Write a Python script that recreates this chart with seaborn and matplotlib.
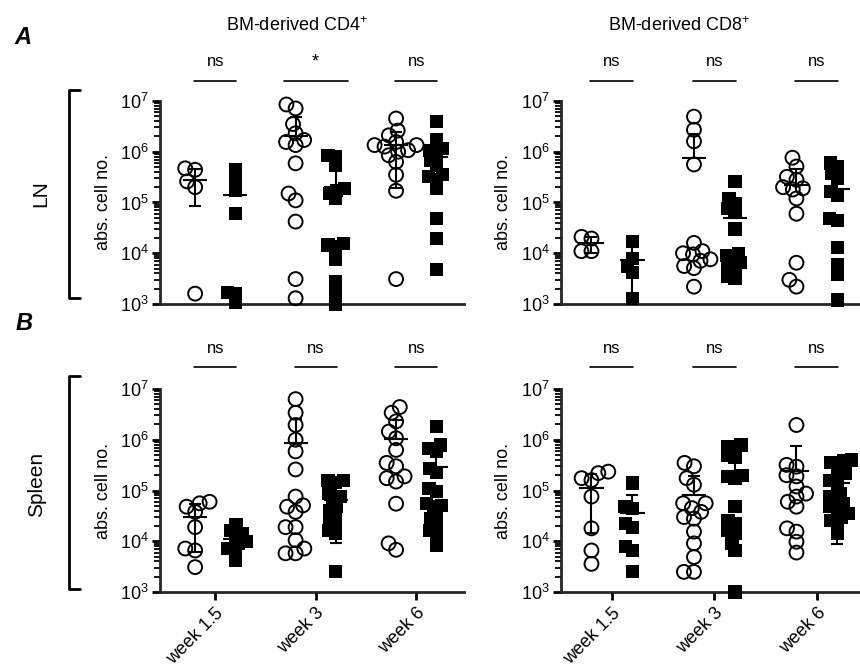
import numpy as np
import pandas as pd
import seaborn as sns
import matplotlib.pyplot as plt
from matplotlib.lines import Line2D
from matplotlib.ticker import LogLocator, NullFormatter

# x 카테고리 / 그룹
weeks = ['week 1.5', 'week 3', 'week 6']
groups = ['open', 'filled']

# LN, BM-derived CD4+  (주차별 값, 그림에서 읽은 값)
ln_cd4_open = [
    [4.7e5, 4.4e5, 2.6e5, 2.0e5, 1.6e3],
    [8.5e6, 7.1e6, 3.5e6, 2.3e6, 1.7e6, 1.55e6, 1.35e6, 5.9e5, 1.5e5, 1.1e5, 4.2e4, 3.1e3, 1.3e3],
    [4.5e6, 2.6e6, 2.1e6, 1.55e6, 1.35e6, 1.35e6, 1.26e6, 1.07e6, 1.0e6, 8.5e5, 6.3e5, 3.5e5, 1.7e5, 3.1e3],
]
ln_cd4_filled = [
    [4.5e5, 2.75e5, 1.75e5, 6.0e4, 1.7e3, 1.6e3, 1.1e3],
    [8.5e5, 7.9e5, 5.4e5, 1.9e5, 1.75e5, 1.5e5, 1.2e5, 1.55e4, 1.45e4, 1.35e4, 7.4e3, 2.75e3, 1.6e3, 1.0e3],
    [3.9e6, 1.7e6, 1.15e6, 1.07e6, 9.1e5, 6.8e5, 5.4e5, 3.5e5, 3.2e5, 2.8e5, 1.9e5, 4.9e4, 1.95e4, 4.7e3],
]
ln_cd4_sig = ['ns', '*', 'ns']

# LN, BM-derived CD8+
ln_cd8_open = [
    [2.1e4, 1.95e4, 1.1e4, 1.1e4],
    [4.9e6, 2.7e6, 1.6e6, 5.6e5, 1.6e4, 1.1e4, 1.0e4, 9.5e3, 7.6e3, 7.1e3, 5.6e3, 5.1e3, 2.2e3],
    [7.6e5, 5.1e5, 3.2e5, 2.8e5, 2.0e5, 1.9e5, 1.8e5, 1.2e5, 6.0e4, 6.5e3, 3.0e3, 2.2e3],
]
ln_cd8_filled = [
    [1.7e4, 8.0e3, 5.5e3, 4.2e3, 1.3e3],
    [2.6e5, 1.2e5, 9.5e4, 7.6e4, 6.5e4, 3.0e4, 1.0e4, 8.9e3, 7.6e3, 6.5e3, 6.0e3, 5.1e3, 3.5e3, 3.2e3],
    [6.0e5, 5.2e5, 3.8e5, 3.0e5, 1.65e5, 1.4e5, 4.8e4, 4.4e4, 1.3e4, 6.0e3, 3.8e3, 1.2e3],
]
ln_cd8_sig = ['ns', 'ns', 'ns']

# Spleen, BM-derived CD4+
sp_cd4_open = [
    [6.0e4, 5.6e4, 4.8e4, 3.8e4, 1.9e4, 7.2e3, 6.6e3, 3.1e3],
    [6.3e6, 3.4e6, 1.95e6, 1.0e6, 5.9e5, 2.6e5, 7.6e4, 5.1e4, 4.8e4, 3.8e4, 1.9e4, 1.9e4, 1.05e4, 7.2e3, 5.8e3, 5.8e3],
    [4.4e6, 3.4e6, 2.3e6, 1.45e6, 1.07e6, 6.3e5, 3.5e5, 3.0e5, 1.9e5, 1.75e5, 1.5e5, 5.5e4, 9.1e3, 6.8e3],
]
sp_cd4_filled = [
    [2.1e4, 1.65e4, 1.4e4, 1.25e4, 9.8e3, 9.1e3, 7.2e3, 6.6e3, 4.3e3],
    [1.6e5, 1.55e5, 1.45e5, 8.7e4, 7.6e4, 6.5e4, 4.8e4, 4.1e4, 3.3e4, 2.6e4, 2.1e4, 1.65e4, 1.4e4, 2.5e3],
    [1.8e6, 7.9e5, 6.8e5, 5.9e5, 2.75e5, 2.3e5, 1.1e5, 9.5e4, 5.6e4, 5.1e4, 4.8e4, 3.5e4, 2.8e4, 2.2e4, 1.65e4, 1.4e4, 8.3e3],
]
sp_cd4_sig = ['ns', 'ns', 'ns']

# Spleen, BM-derived CD8+
sp_cd8_open = [
    [2.35e5, 2.2e5, 1.75e5, 1.6e5, 7.6e4, 1.8e4, 6.6e3, 3.6e3],
    [3.5e5, 3.0e5, 1.75e5, 1.3e5, 5.6e4, 5.6e4, 4.5e4, 3.8e4, 3.0e4, 2.8e4, 1.55e4, 9.1e3, 4.9e3, 2.5e3, 2.5e3],
    [1.95e6, 3.2e5, 2.95e5, 2.0e5, 1.9e5, 1.2e5, 8.7e4, 7.6e4, 6.0e4, 4.8e4, 1.8e4, 1.55e4, 9.8e3, 6.0e3],
]
sp_cd8_filled = [
    [1.4e5, 4.8e4, 4.5e4, 2.2e4, 1.9e4, 7.8e3, 6.6e3, 2.5e3],
    [7.9e5, 7.4e5, 6.3e5, 5.0e5, 4.4e5, 2.0e5, 1.9e5, 1.75e5, 4.8e4, 2.6e4, 2.2e4, 1.65e4, 1.4e4, 9.1e3, 6.6e3, 1.0e3],
    [4.0e5, 3.8e5, 3.5e5, 3.0e5, 2.2e5, 2.0e5, 1.6e5, 1.4e5, 8.7e4, 7.6e4, 6.5e4, 5.6e4, 4.8e4, 4.5e4,
     3.5e4, 3.0e4, 2.6e4, 2.2e4, 1.4e4],
]
sp_cd8_sig = ['ns', 'ns', 'ns']


sns.set_style('ticks')
plt.rcParams['font.family'] = ['Liberation Sans', 'DejaVu Sans']
plt.rcParams['mathtext.fontset'] = 'custom'
plt.rcParams['mathtext.rm'] = 'Liberation Sans'
plt.rcParams['mathtext.it'] = 'Liberation Sans:italic'
plt.rcParams['mathtext.bf'] = 'Liberation Sans:bold'
plt.rcParams['text.color'] = 'black'
plt.rcParams['axes.labelcolor'] = 'black'
plt.rcParams['xtick.color'] = 'black'
plt.rcParams['ytick.color'] = 'black'

SWARM_SIZE = 5.5     # swarm 배치 계산용 (작게 -> GraphPad처럼 촘촘하게)
CIRCLE_SIZE = 10     # 실제 표시 크기
SQUARE_SIZE = 9.5

swarm_cols = []      # (collection, 표시 크기)


def to_long(open_vals, filled_vals):
    rows = []
    for wk, vals in zip(weeks, open_vals):
        for v in vals:
            rows.append((wk, 'open', v))
    for wk, vals in zip(weeks, filled_vals):
        for v in vals:
            rows.append((wk, 'filled', v))
    return pd.DataFrame(rows, columns=['week', 'group', 'cells'])


def draw_panel(ax, open_vals, filled_vals, sig, xlim, bottom_row):
    df = to_long(open_vals, filled_vals)
    pal = {'open': 'white', 'filled': 'black'}

    # 원 (open circle)
    n0 = len(ax.collections)
    sns.swarmplot(data=df[df.group == 'open'], x='week', y='cells', hue='group',
                  order=weeks, hue_order=groups, dodge=True, palette=pal,
                  marker='o', size=SWARM_SIZE, edgecolor='black', linewidth=1.4,
                  legend=False, log_scale=True, ax=ax, warn_thresh=1)
    for c in ax.collections[n0:]:
        if len(c.get_offsets()):
            c.set_facecolor('none')
            c.set_clip_on(False)
            swarm_cols.append((c, CIRCLE_SIZE))
    # 네모 (filled square)
    n0 = len(ax.collections)
    sns.swarmplot(data=df[df.group == 'filled'], x='week', y='cells', hue='group',
                  order=weeks, hue_order=groups, dodge=True, palette=pal,
                  marker='s', size=SWARM_SIZE, linewidth=0, legend=False,
                  log_scale=True, ax=ax, warn_thresh=1)
    for c in ax.collections[n0:]:
        if len(c.get_offsets()):
            c.set_clip_on(False)
            swarm_cols.append((c, SQUARE_SIZE))

    # mean +/- SD  (mean-SD가 음수면 아래쪽은 안 그림 - log축)
    st = df.groupby(['week', 'group'])['cells'].agg(['mean', 'std']).reset_index()
    for _, r in st.iterrows():
        x = weeks.index(r['week']) + (-0.2 if r['group'] == 'open' else 0.2)
        m, s = r['mean'], r['std']
        lo = s if m - s > 0 else 0
        ax.hlines(m, x - 0.12, x + 0.12, color='black', lw=1.5, zorder=4)
        ax.errorbar([x], [m], yerr=[[lo], [s]], fmt='none', ecolor='black',
                    elinewidth=1.5, capsize=4, capthick=1.5, zorder=4)

    ax.set_yscale('log')
    ax.set_ylim(1e3, 1e7)
    ax.set_xlim(*xlim)
    ax.yaxis.set_major_locator(LogLocator(base=10, numticks=10))
    ax.yaxis.set_minor_locator(LogLocator(base=10, subs=np.arange(2, 10), numticks=10))
    ax.yaxis.set_minor_formatter(NullFormatter())
    sns.despine(ax=ax)
    for sp in ['left', 'bottom']:
        ax.spines[sp].set_linewidth(2)
    ax.tick_params(axis='y', which='major', length=6, width=2, labelsize=13, pad=2)
    ax.tick_params(axis='y', which='minor', length=4, width=1.3)
    ax.set_ylabel('abs. cell no.', fontsize=13, labelpad=6)
    ax.set_xlabel('')
    if bottom_row:
        ax.tick_params(axis='x', length=6, width=2, labelsize=13, pad=3)
        ax.set_xticks(range(len(weeks)))
        ax.set_xticklabels(weeks, rotation=45, ha='right', va='top', rotation_mode='anchor')
        line_y, txt_y = 1.11, 1.175
    else:
        ax.tick_params(axis='x', length=0, labelbottom=False)
        line_y, txt_y = 1.1, 1.17

    # 유의성 표시
    trans = ax.get_xaxis_transform()
    for i, lab in enumerate(sig):
        half = 0.21 if lab == 'ns' else 0.32
        ax.plot([i - half, i + half], [line_y, line_y], color='black', lw=1.2,
                transform=trans, clip_on=False)
        ax.text(i, txt_y, lab, ha='center', va='baseline', fontsize=12 if lab == 'ns' else 13,
                transform=trans)


fig = plt.figure(figsize=(8.6, 6.66), dpi=100)
ax1 = fig.add_axes([0.186, 0.5435, 0.354, 0.305])
ax2 = fig.add_axes([0.652, 0.5435, 0.348, 0.305])
ax3 = fig.add_axes([0.186, 0.111, 0.354, 0.305])
ax4 = fig.add_axes([0.652, 0.111, 0.348, 0.305])

draw_panel(ax1, ln_cd4_open, ln_cd4_filled, ln_cd4_sig, (-0.55, 2.48), False)
draw_panel(ax2, ln_cd8_open, ln_cd8_filled, ln_cd8_sig, (-0.5, 2.42), False)
draw_panel(ax3, sp_cd4_open, sp_cd4_filled, sp_cd4_sig, (-0.55, 2.48), True)
draw_panel(ax4, sp_cd8_open, sp_cd8_filled, sp_cd8_sig, (-0.5, 2.42), True)

# 제목, 패널 문자, 괄호
fig.text(0.345, 0.962, 'BM-derived CD4$^{+}$', fontsize=13, ha='center', va='center')
fig.text(0.79, 0.962, 'BM-derived CD8$^{+}$', fontsize=13, ha='center', va='center')
fig.text(0.027, 0.943, 'A', fontsize=17, fontweight='bold', fontstyle='italic', ha='center', va='center')
fig.text(0.028, 0.515, 'B', fontsize=17, fontweight='bold', fontstyle='italic', ha='center', va='center')
fig.text(0.047, 0.709, 'LN', rotation=90, fontsize=15, ha='center', va='center')
fig.text(0.043, 0.272, 'Spleen', rotation=90, fontsize=15, ha='center', va='center')

x0, x1 = 69 / 860, 80 / 860
for yt, yb in [(0.865, 0.553), (0.435, 0.115)]:
    fig.add_artist(Line2D([x1, x0, x0, x1], [yt, yt, yb, yb], transform=fig.transFigure,
                          color='black', lw=2))

# swarm 위치를 작은 크기로 한번 계산해서 고정한 다음 마커 크기를 키움
fig.canvas.draw()
for c, sz in swarm_cols:
    if 'draw' in c.__dict__:
        del c.draw
    c.set_sizes([sz ** 2])

fig.savefig('out.png', dpi=100)
